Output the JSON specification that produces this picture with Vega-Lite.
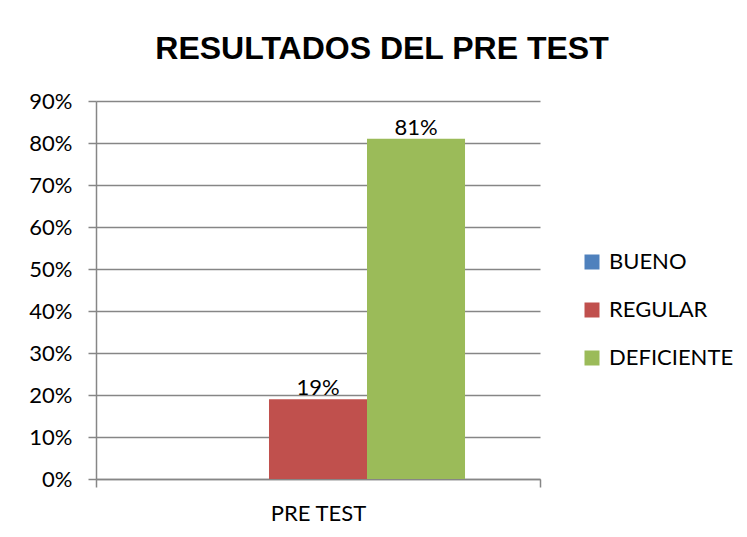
{
  "$schema": "https://vega.github.io/schema/vega-lite/v6.json",
  "autosize": "none",
  "width": 444,
  "height": 378,
  "padding": {"left": 96, "top": 101, "right": 207, "bottom": 58},
  "background": "white",
  "title": {
    "text": "RESULTADOS DEL PRE TEST",
    "font": "Liberation Sans",
    "fontSize": 32,
    "fontWeight": "bold",
    "color": "#000000",
    "anchor": "middle",
    "dx": 64,
    "offset": 24
  },
  "data": {
    "values": [
      {"prueba": "PRE TEST", "categoria": "BUENO", "valor": 0.0},
      {"prueba": "PRE TEST", "categoria": "REGULAR", "valor": 0.19},
      {"prueba": "PRE TEST", "categoria": "DEFICIENTE", "valor": 0.81}
    ]
  },
  "encoding": {
    "x": {
      "field": "prueba",
      "type": "nominal",
      "title": null,
      "scale": {"paddingInner": 0, "paddingOuter": 0},
      "axis": {
        "labelAngle": 0,
        "labelFont": "Lato",
        "labelFontSize": 22,
        "labelColor": "#000000",
        "labelPadding": 16,
        "tickBand": "extent",
        "tickSize": 8,
        "tickColor": "#868686",
        "domainColor": "#868686",
        "tickWidth": 1.5,
        "domainWidth": 1.5
      }
    },
    "xOffset": {
      "field": "categoria",
      "type": "nominal",
      "sort": ["BUENO", "REGULAR", "DEFICIENTE"],
      "scale": {"paddingInner": 0, "paddingOuter": 0.765}
    },
    "y": {
      "field": "valor",
      "type": "quantitative",
      "title": null,
      "scale": {"domain": [0, 0.9], "nice": false},
      "axis": {
        "format": ".0%",
        "values": [0, 0.1, 0.2, 0.3, 0.4, 0.5, 0.6, 0.7, 0.8, 0.9],
        "labelFont": "Lato",
        "labelFontSize": 22,
        "labelColor": "#000000",
        "labelPadding": 16,
        "tickSize": 8,
        "tickColor": "#868686",
        "domainColor": "#868686",
        "gridColor": "#868686",
        "tickWidth": 1.5,
        "domainWidth": 1.5,
        "gridWidth": 1.5,
        "grid": true
      }
    }
  },
  "layer": [
    {
      "mark": {"type": "bar"},
      "encoding": {
        "color": {
          "field": "categoria",
          "type": "nominal",
          "sort": ["BUENO", "REGULAR", "DEFICIENTE"],
          "scale": {"domain": ["BUENO", "REGULAR", "DEFICIENTE"], "range": ["#4F81BD", "#C0504D", "#9BBB59"]},
          "legend": {
            "title": null,
            "orient": "none",
            "legendX": 485,
            "legendY": 150,
            "symbolType": "square",
            "symbolSize": 225,
            "symbolStrokeWidth": 0,
            "labelFont": "Lato",
            "labelFontSize": 22,
            "labelColor": "#000000",
            "rowPadding": 26,
            "labelOffset": 6
          }
        }
      }
    },
    {
      "transform": [{"filter": "datum.valor > 0"}],
      "mark": {"type": "text", "baseline": "alphabetic", "dy": -4, "font": "Lato", "fontSize": 22, "color": "#000000"},
      "encoding": {
        "text": {"field": "valor", "type": "quantitative", "format": ".0%"}
      }
    }
  ],
  "config": {"view": {"stroke": null}}
}
